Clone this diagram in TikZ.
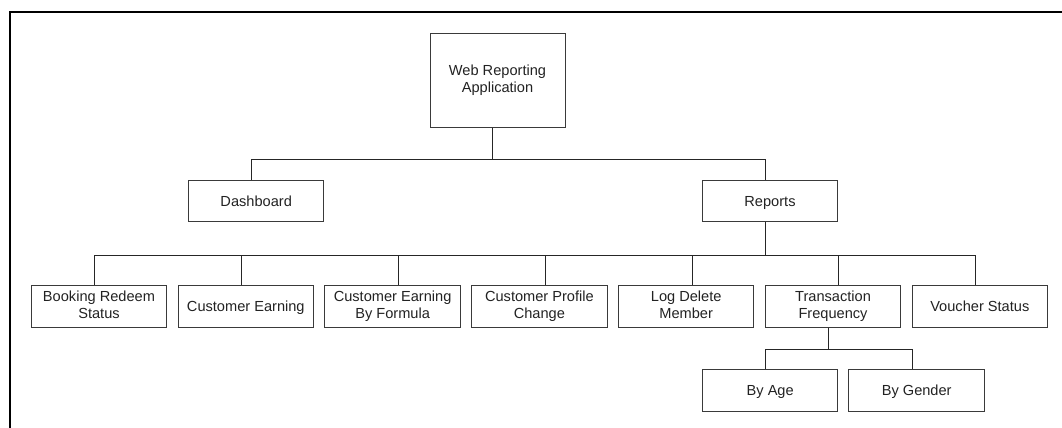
\documentclass[tikz,border=0pt]{standalone}
\usepackage{fontspec}
\setmainfont{Liberation Sans}
\definecolor{boxline}{HTML}{3A3A3A}
\definecolor{txt}{HTML}{222222}
\newcommand\boxstrut{\rule[-3.5pt]{0pt}{21.1pt}}
\newcommand\boxfont{\fontsize{14.6}{16.7}\selectfont\lineskiplimit=-20pt\relax\lineskip=0pt\relax}
\begin{document}
\begin{tikzpicture}[x=1pt,y=-1pt,
  box/.style={draw=boxline,line width=1pt,minimum width=135.5pt,minimum height=41.5pt,
    align=center,inner xsep=2pt,inner ysep=1pt,text=txt,font=\boxfont},
  onebox/.style={box,text height=10.5pt,text depth=0pt},
  twobox/.style={box,execute at begin node=\boxstrut,execute at end node=\boxstrut},
  conn/.style={draw=black!85,line width=1pt},
  frame/.style={draw=black,line width=2pt}]
\useasboundingbox (0,0) rectangle (1062,428);
\def\off{-4.7pt}
% frame
\draw[frame] (9.7,430) -- (9.7,12) -- (1064,12);
% nodes
\node[twobox,minimum height=94pt,minimum width=135pt] (web) at (497.5,80.3) {Web Reporting\\Application};
\node[onebox] (dash) at (256.2,201.2) {Dashboard};
\node[onebox] (rep) at (770,201.2) {Reports};
\node[twobox] (brs) at (99,306.5) {Booking Redeem\\Status};
\node[onebox] (ce) at (245.8,306.5) {Customer Earning};
\node[twobox] (cef) at (392.6,306.5) {Customer Earning\\By Formula};
\node[twobox] (cpc) at (539.4,306.5) {Customer Profile\\Change};
\node[twobox] (ldm) at (686.2,306.5) {Log Delete\\Member};
\node[twobox] (tf) at (833,306.5) {Transaction\\Frequency};
\node[onebox] (vs) at (979.8,306.5) {Voucher Status};
\node[onebox] (age) at (770.2,390.7) {By Age};
\node[onebox] (gen) at (916.7,390.7) {By Gender};
% connectors
\foreach \c in {dash,rep}
  \draw[conn] ([xshift=\off]web.south) -- ++(0,32) -| ([xshift=\off]\c.north);
\foreach \c/\o in {brs/-4.7,ce/-4.7,cef/5.9,cpc/5.8,ldm/5.8,tf/5.7,vs/-4.5}
  \draw[conn] ([xshift=\off]rep.south) -- ++(0,32.6) -| ([xshift=\o pt]\c.north);
\foreach \c in {age,gen}
  \draw[conn] ([xshift=\off]tf.south) -- ++(0,21.4) -| ([xshift=\off]\c.north);
\end{tikzpicture}
\end{document}
